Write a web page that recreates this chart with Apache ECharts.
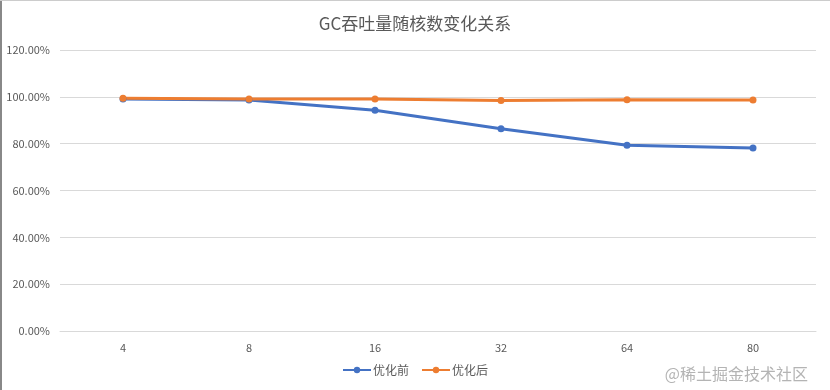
<!DOCTYPE html>
<html><head><meta charset="utf-8">
<script src="https://cdn.jsdelivr.net/npm/echarts@6/dist/echarts.min.js"></script>
<style>html,body{margin:0;padding:0;background:#fff}#c{width:830px;height:390px}</style>
</head><body><div id="c"></div>
<script>
const titleText = 'GC吞吐量随核数变化关系';
const categories = ['4', '8', '16', '32', '64', '80'];
const beforeName = '优化前';
const afterName = '优化后';
const beforeValues = [99.1, 98.6, 94.3, 86.4, 79.3, 78.2];
const afterValues = [99.4, 99.1, 99.1, 98.4, 98.8, 98.6];
const yTicks = [0, 20, 40, 60, 80, 100, 120];
const watermark = '@稀土掘金技术社区';

const font = '"Noto Sans CJK SC", "Noto Sans", sans-serif';
const chart = echarts.init(document.getElementById('c'));
chart.setOption({
  animation: false,
  backgroundColor: '#fff',
  title: { text: titleText, left: 'center', top: 10,
    textStyle: { fontFamily: font, fontSize: 17, fontWeight: 'normal', color: '#595959' } },
  grid: { left: 60, right: 14, top: 50, bottom: 59 },
  legend: { bottom: 9, left: 'center', itemWidth: 28, itemHeight: 8, itemGap: 12,
    textStyle: { fontFamily: font, fontSize: 12, color: '#595959', padding: [0, 0, 0, -3] },
    data: [beforeName, afterName] },
  xAxis: { type: 'category', data: categories, boundaryGap: true,
    axisLine: { lineStyle: { color: '#d9d9d9' } }, axisTick: { show: false },
    axisLabel: { margin: 11, fontFamily: font, fontSize: 11, color: '#595959' } },
  yAxis: { type: 'value', min: yTicks[0], max: yTicks[yTicks.length - 1], interval: yTicks[1] - yTicks[0],
    axisLine: { show: false }, axisTick: { show: false },
    axisLabel: { margin: 10, fontFamily: font, fontSize: 11, color: '#595959',
      formatter: v => v.toFixed(2) + '%' },
    splitLine: { lineStyle: { color: '#d9d9d9' } } },
  series: [
    { name: beforeName, type: 'line', data: beforeValues, symbol: 'circle', symbolSize: 7,
      itemStyle: { color: '#4472C4' }, lineStyle: { width: 3, color: '#4472C4' } },
    { name: afterName, type: 'line', data: afterValues, symbol: 'circle', symbolSize: 7,
      itemStyle: { color: '#ED7D31' }, lineStyle: { width: 3, color: '#ED7D31' } }
  ],
  graphic: [
    { type: 'line', shape: { x1: 1, y1: 0, x2: 1, y2: 390 }, style: { stroke: '#888', lineWidth: 2 } },
    { type: 'line', shape: { x1: 0, y1: 0.5, x2: 830, y2: 0.5 }, style: { stroke: '#ccc', lineWidth: 1 } },
    { type: 'text', right: 22, bottom: 8,
      style: { text: watermark, fontFamily: font, fontSize: 16, fill: '#b4b4b4' } }
  ]
});
</script></body></html>
